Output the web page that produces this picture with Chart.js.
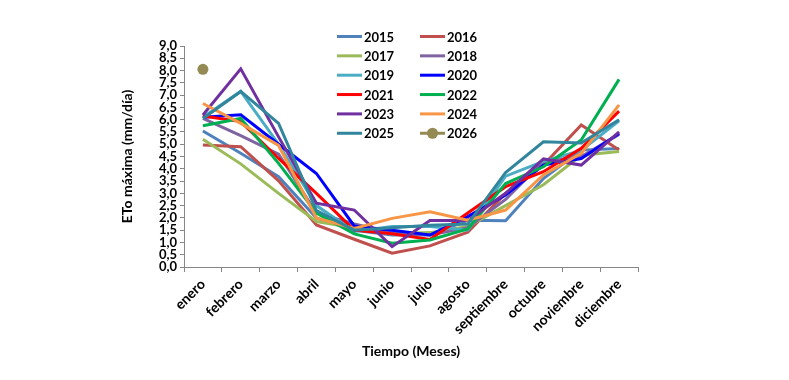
<!DOCTYPE html>
<html>
<head>
<meta charset="utf-8">
<script src="https://cdn.jsdelivr.net/npm/chart.js@4"></script>
<style>
  html, body { margin: 0; padding: 0; background: #fff; }
  #wrap { width: 789px; height: 380px; position: relative; }
</style>
</head>
<body>
<div id="wrap"><canvas id="c"></canvas></div>
<script>
const months = ["enero","febrero","marzo","abril","mayo","junio","julio","agosto","septiembre","octubre","noviembre","diciembre"];
const yTicks = [0,0.5,1,1.5,2,2.5,3,3.5,4,4.5,5,5.5,6,6.5,7,7.5,8,8.5,9];

const y2015 = [5.54, 4.63, 3.68, 2.00, 1.50, 1.30, 1.30, 1.90, 1.88, 3.60, 4.76, 4.83];
const y2016 = [4.97, 4.90, 3.51, 1.71, 1.13, 0.56, 0.86, 1.42, 3.00, 4.15, 5.78, 4.76];
const y2017 = [5.20, 4.20, 3.00, 1.85, 1.60, 1.35, 1.40, 1.65, 2.50, 3.35, 4.55, 4.70];
const y2018 = [6.05, 5.35, 4.60, 2.20, 1.75, 1.40, 1.30, 1.60, 2.75, 4.30, 4.50, 5.40];
const y2019 = [6.10, 7.15, 5.00, 2.50, 1.45, 1.65, 1.65, 1.50, 3.70, 4.30, 4.75, 5.95];
const y2020 = [6.10, 6.20, 5.00, 3.81, 1.67, 1.50, 1.30, 2.05, 2.93, 4.15, 4.42, 5.44];
const y2021 = [6.15, 5.92, 4.42, 3.00, 1.50, 1.35, 1.12, 2.20, 3.27, 3.88, 4.83, 6.35];
const y2022 = [5.75, 6.05, 4.22, 2.20, 1.35, 0.97, 1.10, 1.55, 3.40, 4.08, 5.17, 7.64];
const y2023 = [6.19, 8.07, 5.30, 2.60, 2.32, 0.83, 1.89, 1.89, 3.00, 4.40, 4.15, 5.50];
const y2024 = [6.66, 5.85, 4.95, 2.00, 1.57, 1.98, 2.25, 1.91, 2.32, 3.75, 4.63, 6.60];
const y2025 = [6.05, 7.15, 5.85, 2.30, 1.50, 1.60, 1.70, 1.75, 3.85, 5.10, 5.05, 6.00];
const y2026 = [8.05, null, null, null, null, null, null, null, null, null, null, null];

const seriesLabels = ["2015","2016","2017","2018","2019","2020","2021","2022","2023","2024","2025","2026"];
const seriesData = [y2015,y2016,y2017,y2018,y2019,y2020,y2021,y2022,y2023,y2024,y2025,y2026];
const seriesColors = ["#4F81BD","#C0504D","#9BBB59","#8064A2","#4BACC6","#0000FF","#FF0000","#00B050","#7030A0","#F79646","#31859C","#948A54"];

const FONT = "Lato, 'Open Sans', sans-serif";

const datasets = seriesLabels.map((lab, i) => ({
  label: lab,
  data: seriesData[i],
  borderColor: seriesColors[i],
  backgroundColor: seriesColors[i],
  borderWidth: 3,
  tension: 0,
  fill: false,
  spanGaps: false,
  pointRadius: lab === "2026" ? 5.5 : 0,
  pointHoverRadius: lab === "2026" ? 5.5 : 0,
  pointBorderWidth: 0,
  order: -i
}));

const gridLegend = {
  id: 'gridLegend',
  afterDraw(chart) {
    const ctx = chart.ctx;
    ctx.save();
    ctx.font = "bold 13px " + FONT;
    ctx.textBaseline = 'middle';
    ctx.textAlign = 'left';
    chart.data.datasets.forEach((ds, i) => {
      const col = i % 2, row = Math.floor(i / 2);
      const x0 = 337 + col * 83;
      const y = 36.5 + row * 19.35;
      ctx.strokeStyle = ds.borderColor;
      ctx.lineWidth = 3;
      ctx.beginPath();
      ctx.moveTo(x0, y);
      ctx.lineTo(x0 + 25, y);
      ctx.stroke();
      if (ds.pointRadius > 0) {
        ctx.fillStyle = ds.backgroundColor;
        ctx.beginPath();
        ctx.arc(x0 + 12.5, y, 5.5, 0, Math.PI * 2);
        ctx.fill();
      }
      ctx.fillStyle = '#000';
      ctx.fillText(ds.label, x0 + 27, y + 1);
    });
    ctx.restore();
  }
};

new Chart(document.getElementById('c'), {
  type: 'line',
  data: { labels: months, datasets },
  options: {
    responsive: true,
    maintainAspectRatio: false,
    animation: false,
    events: [],
    layout: { padding: { left: 115, right: 151, top: 46, bottom: 16 } },
    plugins: {
      legend: { display: false },
      tooltip: { enabled: false },
      title: { display: false }
    },
    scales: {
      x: {
        type: 'category',
        offset: true,
        grid: {
          offset: true,
          drawOnChartArea: false,
          drawTicks: true,
          tickLength: 5,
          color: '#868686'
        },
        border: { color: '#868686', width: 1 },
        ticks: {
          autoSkip: false,
          minRotation: 45,
          maxRotation: 45,
          padding: 4,
          color: '#000',
          font: { family: FONT, size: 14, weight: 'bold' }
        },
        title: {
          display: true,
          text: 'Tiempo (Meses)',
          color: '#000',
          font: { family: FONT, size: 14, weight: 'bold' },
          padding: 4
        },
        afterFit(scale) { scale.height = 97; }
      },
      y: {
        min: 0,
        max: 9,
        afterBuildTicks(scale) { scale.ticks = yTicks.map(v => ({ value: v })); },
        grid: {
          drawOnChartArea: false,
          drawTicks: true,
          tickLength: 4,
          color: '#868686'
        },
        border: { color: '#868686', width: 1 },
        ticks: {
          autoSkip: false,
          padding: 3,
          color: '#000',
          font: { family: FONT, size: 13, weight: 'bold', lineHeight: 1 },
          callback: (v) => Number(v).toFixed(1).replace('.', ',')
        },
        title: {
          display: true,
          text: 'ETo máxima (mm/día)',
          color: '#000',
          font: { family: FONT, size: 14, weight: 'bold' },
          padding: 4
        },
        afterFit(scale) { scale.width = 69; }
      }
    }
  },
  plugins: [gridLegend]
});
</script>
</body>
</html>
